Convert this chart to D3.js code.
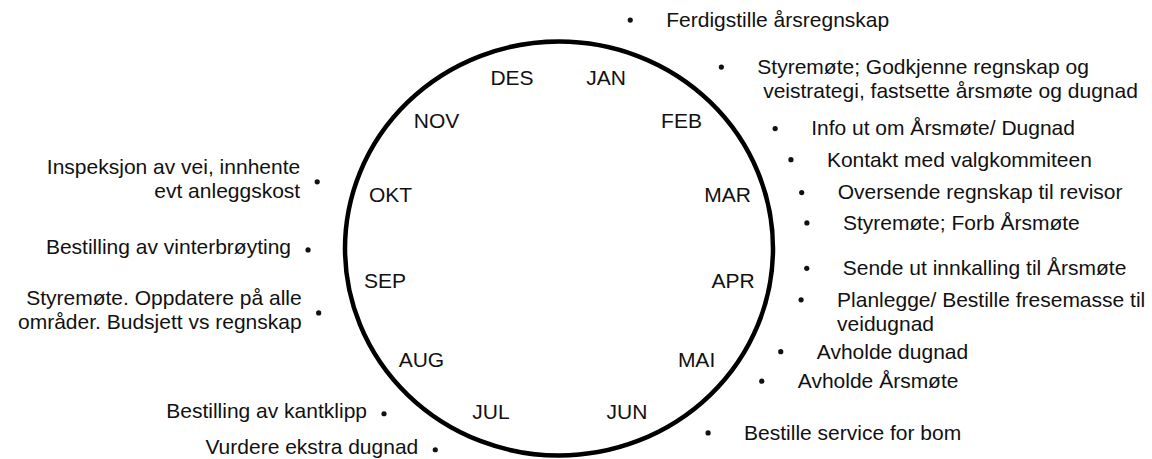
<!DOCTYPE html>
<html><head><meta charset="utf-8">
<script src="https://cdn.jsdelivr.net/npm/d3@7"></script>
<style>
html,body{margin:0;padding:0;background:#fff;}
svg{display:block;font-family:"Liberation Sans",Arial,Helvetica,sans-serif;}
</style>
</head><body>
<svg id="chart" width="1152" height="459"></svg>
<script>
// ---- data ----
const months = ["JAN","FEB","MAR","APR","MAI","JUN","JUL","AUG","SEP","OKT","NOV","DES"];

// each activity: its lines of text, and its position in the year (months from 1 January)
const activityLines = [
  ["Ferdigstille årsregnskap"],
  ["Styremøte; Godkjenne regnskap og", " veistrategi, fastsette årsmøte og dugnad"],
  ["Info ut om Årsmøte/ Dugnad"],
  ["Kontakt med valgkommiteen"],
  ["Oversende regnskap til revisor"],
  ["Styremøte; Forb Årsmøte"],
  ["Sende ut innkalling til Årsmøte"],
  ["Planlegge/ Bestille fresemasse til", "veidugnad"],
  ["Avholde dugnad"],
  ["Avholde Årsmøte"],
  ["Bestille service for bom"],
  ["Vurdere ekstra dugnad"],
  ["Bestilling av kantklipp"],
  ["Styremøte. Oppdatere på alle", "områder. Budsjett vs regnskap"],
  ["Bestilling av vinterbrøyting"],
  ["Inspeksjon av vei, innhente", "evt anleggskost"]
];
const activityMonth = [0.56, 1.36, 2.01, 2.29, 2.57, 2.82, 3.19, 3.45, 3.90, 4.18, 4.77, 6.98, 7.47, 8.44, 8.96, 9.52];

// ---- layout ----
const W = 1152, H = 459;
const cx = 559, cy = 248.5;          // wheel centre
const ringRx = 214, ringRy = 207;    // wheel outline
const labelR = 177;                  // month label radius
const bcx = 558, bcy = 245, brx = 250, bry = 235; // activity bullet ring
const fontSize = 21;
const ink = "#111";

const svg = d3.select("#chart");
svg.append("rect").attr("width", W).attr("height", H).attr("fill", "#fff");

// wheel
svg.append("ellipse")
  .attr("cx", cx).attr("cy", cy)
  .attr("rx", ringRx).attr("ry", ringRy)
  .attr("fill", "none").attr("stroke", "#000").attr("stroke-width", 4.5);

// month labels: first half of the year down the right side, second half up the left side
const half = months.length / 2;
const rightHalf = months.slice(0, half);
const labelAngle = d3.scalePoint().domain(rightHalf).range([15.4, 157.4]);
function monthAngleDeg(m, i) {
  return i < half ? labelAngle(m) : -labelAngle(months[months.length - 1 - i]);
}
svg.append("g").selectAll("text")
  .data(months)
  .join("text")
  .attr("x", (m, i) => cx + labelR * Math.sin(monthAngleDeg(m, i) * Math.PI / 180))
  .attr("y", (m, i) => cy - labelR * Math.cos(monthAngleDeg(m, i) * Math.PI / 180))
  .attr("dy", "0.35em")
  .attr("text-anchor", "middle")
  .attr("font-size", fontSize)
  .attr("fill", ink)
  .text(d => d);

// activities
const yearAngle = d3.scaleLinear().domain([0, 12]).range([0, 2 * Math.PI]);
const acts = activityLines.map((lines, i) => {
  const a = yearAngle(activityMonth[i]);
  const x = bcx + brx * Math.sin(a);
  const y = bcy - bry * Math.cos(a);
  return { lines, x, y, right: Math.sin(a) >= 0 };
});

const g = svg.append("g");
g.selectAll("circle")
  .data(acts)
  .join("circle")
  .attr("cx", d => d.x).attr("cy", d => d.y)
  .attr("r", 2.6).attr("fill", ink);

const lineH = 24;
g.selectAll("text.act")
  .data(acts)
  .join("text")
  .attr("class", "act")
  .attr("font-size", fontSize)
  .attr("fill", ink)
  .attr("text-anchor", d => d.right ? "start" : "end")
  .each(function(d) {
    const t = d3.select(this);
    const x0 = d.right ? d.x + 36 : d.x - 17;
    const y0 = d.right ? d.y : d.y - 3 - (d.lines.length - 1) * lineH / 2;
    d.lines.forEach((ln, k) => {
      t.append("tspan")
        .attr("x", x0)
        .attr("y", y0 + k * lineH)
        .attr("dy", "0.33em")
        .attr("xml:space", "preserve")
        .style("white-space", "pre")
        .text(ln);
    });
  });
</script>
</body></html>
